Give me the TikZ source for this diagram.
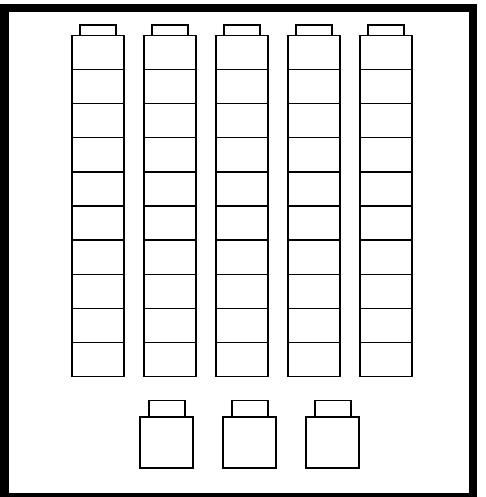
\documentclass[tikz,border=0pt]{standalone}
\begin{document}
\begin{tikzpicture}[x=1pt,y=-1pt,line width=1.3pt,
  unit/.style={draw=black,fill=white},
  frame/.style={draw=black,line width=8.5pt}]
\useasboundingbox (0,0) rectangle (486,497);
\begin{scope}
\clip (0,0) rectangle (486,497);
\draw[frame] (4.5,8) rectangle (473,497.5);
\end{scope}
% five rods of ten
\foreach \i in {0,...,4}{
  \pgfmathsetmacro\xl{72+72*\i}
  \draw[unit] (\xl+8,35.5) -- (\xl+8,25) -- (\xl+44,25) -- (\xl+44,35.5);
  \foreach \j in {0,...,9}{
    \draw[unit] (\xl,35.5+34.1*\j) rectangle (\xl+52,35.5+34.1*\j+34.1);
  }
}
% three single cubes
\foreach \k in {0,1,2}{
  \pgfmathsetmacro\cl{140+83*\k}
  \draw[unit] (\cl+9,417) -- (\cl+9,400.5) -- (\cl+45,400.5) -- (\cl+45,417);
  \draw[unit] (\cl,417) rectangle (\cl+53,468);
}
\end{tikzpicture}
\end{document}
